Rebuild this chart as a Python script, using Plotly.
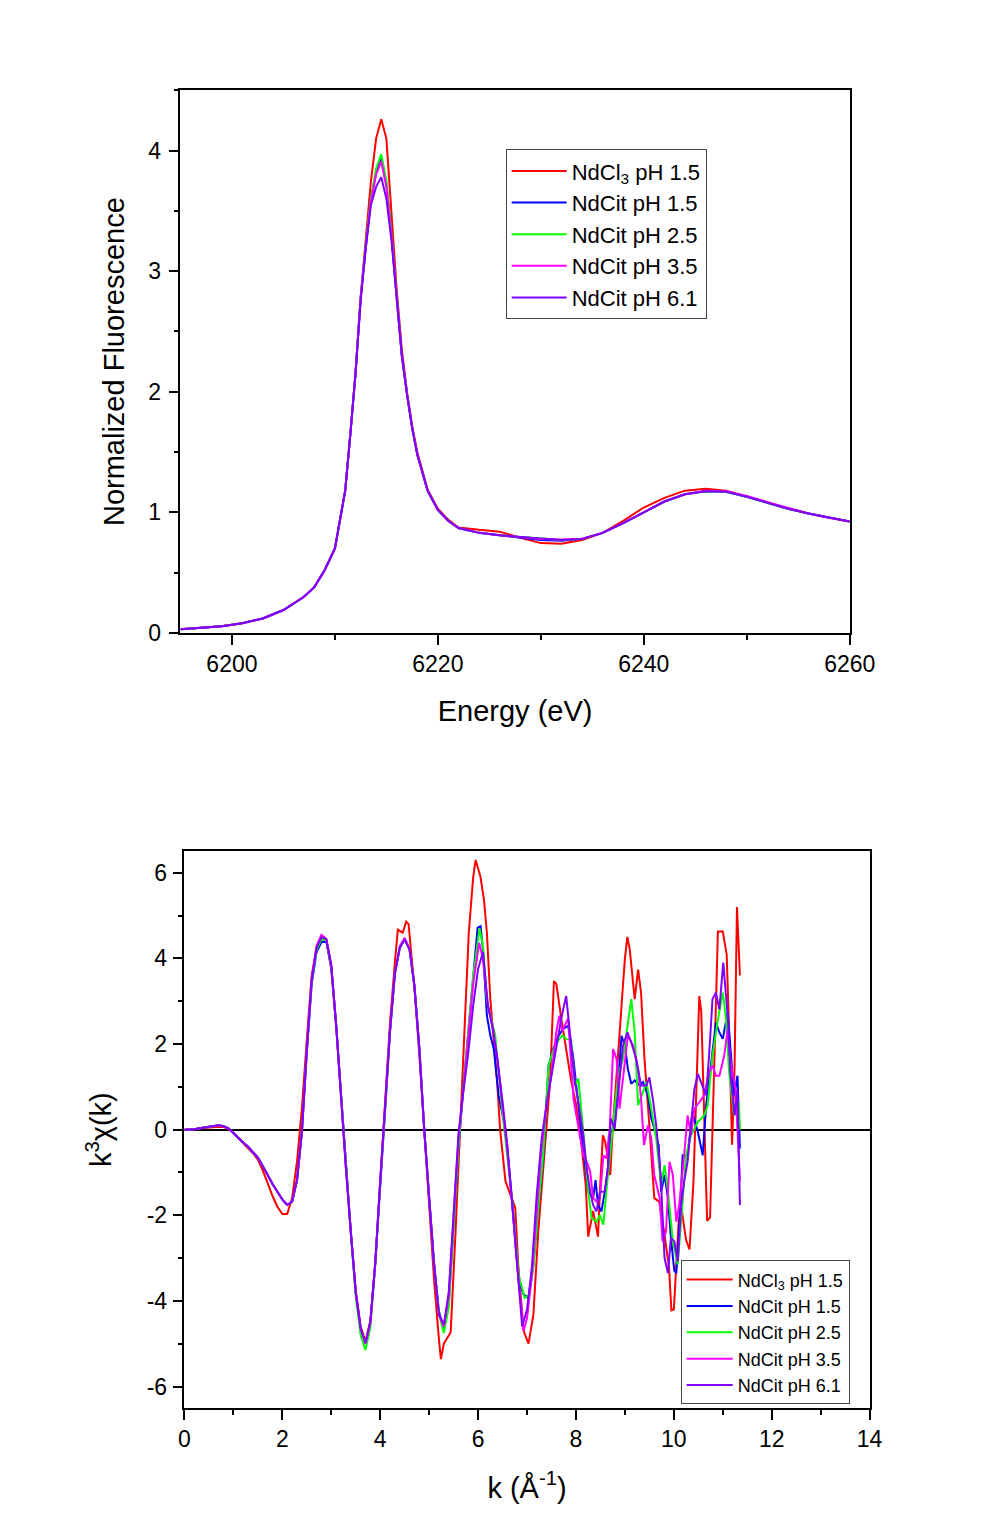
import plotly.graph_objects as go

# ---------------- Top panel: XANES ----------------
energy = [6195, 6197, 6199, 6201, 6203, 6205, 6207, 6208, 6209, 6210, 6211, 6211.5, 6212, 6212.5,
          6213, 6213.5, 6214, 6214.5, 6215, 6215.5, 6216, 6216.5, 6217, 6217.5, 6218, 6219, 6220,
          6221, 6222, 6224, 6226, 6228, 6230, 6232, 6234, 6236, 6238, 6240, 6242, 6244, 6246, 6248,
          6250, 6252, 6254, 6256, 6258, 6260]

xanes_ndcl3 = [0.03, 0.04, 0.055, 0.08, 0.12, 0.19, 0.30, 0.38, 0.52, 0.70, 1.18, 1.65, 2.15, 2.78,
               3.25, 3.75, 4.10, 4.26, 4.10, 3.45, 2.85, 2.35, 2.00, 1.72, 1.50, 1.19, 1.03,
               0.94, 0.875, 0.855, 0.84, 0.79, 0.745, 0.74, 0.77, 0.83, 0.93, 1.04, 1.12, 1.18, 1.195, 1.18,
               1.135, 1.085, 1.035, 0.99, 0.955, 0.925]
xanes_cit15 = [0.03, 0.04, 0.055, 0.08, 0.12, 0.19, 0.30, 0.38, 0.52, 0.70, 1.18, 1.65, 2.15, 2.78,
               3.22, 3.60, 3.82, 3.93, 3.72, 3.30, 2.78, 2.30, 1.98, 1.70, 1.48, 1.18, 1.02,
               0.93, 0.87, 0.83, 0.81, 0.79, 0.77, 0.765, 0.78, 0.83, 0.91, 1.00, 1.09, 1.15, 1.175, 1.17,
               1.13, 1.08, 1.03, 0.99, 0.955, 0.925]
xanes_cit25 = [0.03, 0.04, 0.055, 0.08, 0.12, 0.19, 0.30, 0.38, 0.52, 0.70, 1.18, 1.65, 2.15, 2.78,
               3.23, 3.60, 3.85, 3.97, 3.75, 3.30, 2.78, 2.30, 1.98, 1.70, 1.48, 1.18, 1.02,
               0.93, 0.87, 0.83, 0.81, 0.795, 0.78, 0.77, 0.78, 0.83, 0.91, 1.00, 1.09, 1.15, 1.175, 1.17,
               1.13, 1.08, 1.03, 0.99, 0.955, 0.925]
xanes_cit35 = [0.03, 0.04, 0.055, 0.08, 0.12, 0.19, 0.30, 0.38, 0.52, 0.70, 1.18, 1.65, 2.15, 2.78,
               3.22, 3.58, 3.80, 3.91, 3.70, 3.28, 2.77, 2.30, 1.98, 1.70, 1.48, 1.18, 1.02,
               0.93, 0.87, 0.83, 0.81, 0.795, 0.78, 0.775, 0.78, 0.83, 0.91, 1.00, 1.09, 1.15, 1.18, 1.175,
               1.135, 1.085, 1.035, 0.99, 0.955, 0.925]
xanes_cit61 = [0.03, 0.04, 0.055, 0.08, 0.12, 0.19, 0.30, 0.38, 0.52, 0.70, 1.18, 1.65, 2.15, 2.75,
               3.20, 3.55, 3.70, 3.78, 3.60, 3.25, 2.75, 2.30, 1.98, 1.70, 1.48, 1.18, 1.02,
               0.93, 0.87, 0.83, 0.81, 0.795, 0.78, 0.77, 0.78, 0.83, 0.91, 1.00, 1.09, 1.15, 1.175, 1.17,
               1.13, 1.08, 1.03, 0.99, 0.955, 0.925]

# ---------------- Bottom panel: EXAFS k^3 chi(k) ----------------
k_ndcl3 = [0, 0.2, 0.4, 0.6, 0.7, 0.8, 0.9, 1.0, 1.1, 1.2, 1.3, 1.4, 1.5, 1.6, 1.7, 1.8, 1.9, 2.0, 2.1,
           2.2, 2.3, 2.4, 2.5, 2.6, 2.7, 2.8, 2.9, 3.0, 3.1, 3.2, 3.3, 3.4, 3.5, 3.6, 3.7, 3.8, 3.9, 4.0,
           4.1, 4.2, 4.3, 4.36, 4.46, 4.53, 4.58, 4.7, 4.8, 4.9, 5.0, 5.1, 5.2, 5.24, 5.3, 5.37, 5.44,
           5.54, 5.68, 5.81, 5.9, 5.95, 6.05, 6.12, 6.18, 6.25, 6.39, 6.45, 6.56, 6.66, 6.76, 6.82,
           6.93, 7.03, 7.13, 7.23, 7.34, 7.47, 7.55, 7.6, 7.7, 7.8, 7.9, 8.0, 8.1, 8.2, 8.25, 8.3, 8.35,
           8.4, 8.45, 8.5, 8.55, 8.6, 8.7, 8.75, 8.8, 8.9, 9.0, 9.05, 9.1, 9.2, 9.27, 9.33, 9.4, 9.5,
           9.6, 9.7, 9.8, 9.9, 9.95, 10.0, 10.1, 10.15, 10.25, 10.32, 10.4, 10.45, 10.52, 10.56, 10.62,
           10.68, 10.74, 10.82, 10.9, 11.0, 11.08, 11.14, 11.19, 11.24, 11.29, 11.35]
chi_ndcl3 = [0, 0.01, 0.04, 0.06, 0.07, 0.06, 0.02, -0.08, -0.2, -0.31, -0.42, -0.55, -0.7, -0.95, -1.25,
             -1.55, -1.8, -1.97, -1.97, -1.6, -0.75, 0.5, 2.1, 3.6, 4.25, 4.45, 4.4, 3.75, 2.4, 0.75,
             -0.85, -2.4, -3.75, -4.6, -4.95, -4.45, -3.1, -1.2, 0.6, 2.5, 3.9, 4.67, 4.6, 4.86, 4.8,
             3.3, 1.75, 0.0, -1.8, -3.5, -4.9, -5.36, -5.0, -4.88, -4.73, -2.38, 1.1, 4.6, 5.9, 6.3,
             5.9, 5.37, 4.6, 3.05, 1.11, 0.0, -1.21, -1.52, -1.83, -3.15, -4.7, -5.0, -4.32, -2.38,
             -0.83, 1.11, 3.47, 3.4, 2.6, 1.9, 1.15, 0.6, -0.2, -1.3, -2.5, -2.2, -1.9, -2.2, -2.5,
             -1.2, -0.13, -0.3, -1.06, 0.0, 0.8, 2.3, 4.0, 4.5, 4.2, 3.05, 3.74, 3.2, 1.65, 0.1, -1.6,
             -1.68, -2.38, -3.2, -4.22, -4.2, -2.13, -1.8, -2.58, -2.8, -1.24, 0.54, 3.12, 2.76, 0.54,
             -2.13, -2.05, 1.43, 4.63, 4.63, 4.09, 1.87, -0.35, 1.43, 5.2, 3.6]

k_cit15 = [0, 0.2, 0.4, 0.6, 0.7, 0.8, 0.9, 1.0, 1.1, 1.2, 1.3, 1.4, 1.5, 1.6, 1.7, 1.8, 1.9, 2.0, 2.1,
           2.2, 2.3, 2.4, 2.5, 2.6, 2.7, 2.8, 2.9, 3.0, 3.1, 3.2, 3.3, 3.4, 3.5, 3.6, 3.7, 3.8, 3.9, 4.0,
           4.1, 4.2, 4.3, 4.4, 4.5, 4.6, 4.7, 4.8, 4.9, 5.0, 5.1, 5.2, 5.3, 5.4, 5.5, 5.6, 5.7, 5.8, 5.9,
           5.99, 6.05, 6.1, 6.18, 6.25, 6.32, 6.42, 6.56, 6.69, 6.83, 6.93, 7.03, 7.13, 7.23, 7.33, 7.44,
           7.54, 7.64, 7.74, 7.84, 7.94, 8.05, 8.18, 8.25, 8.35, 8.4, 8.45, 8.52, 8.59, 8.66, 8.72, 8.79,
           8.86, 8.93, 9.0, 9.06, 9.13, 9.2, 9.3, 9.37, 9.47, 9.54, 9.62, 9.69, 9.74, 9.81, 9.88, 9.94,
           10.01, 10.05, 10.11, 10.18, 10.28, 10.38, 10.49, 10.59, 10.66, 10.76, 10.86, 10.93, 11.0,
           11.1, 11.16, 11.23, 11.3, 11.35]
chi_cit15 = [0, 0.01, 0.05, 0.09, 0.10, 0.08, 0.03, -0.08, -0.2, -0.3, -0.4, -0.52, -0.65, -0.85, -1.07,
             -1.27, -1.45, -1.63, -1.76, -1.68, -1.18, -0.05, 1.8, 3.4, 4.15, 4.38, 4.38, 3.8, 2.45,
             0.75, -0.92, -2.4, -3.8, -4.65, -5.0, -4.5, -3.1, -1.2, 0.45, 2.3, 3.65, 4.25, 4.45, 4.22,
             3.35, 1.9, 0.0, -1.6, -3.1, -4.25, -4.65, -4.1, -2.3, -0.4, 1.0, 2.3, 3.6, 4.72, 4.75,
             4.2, 2.66, 2.2, 1.89, 0.8, 0.0, -1.6, -3.54, -3.85, -3.93, -3.16, -1.84, -0.67, 1.5, 1.9,
             2.19, 2.35, 2.43, 1.73, 0.57, -0.67, -1.45, -1.6, -1.18, -1.76, -1.91, -1.45, -0.83, -0.05,
             0.1, 1.03, 2.19, 1.96, 1.42, 1.07, 1.15, 1.03, 1.11, 0.8, 0.26, -0.05, -0.36, -1.45, -1.06,
             -1.6, -2.53, -3.3, -3.35, -2.3, -0.6, -0.6, 0.41, -0.05, -0.6, 0.57, 1.5, 2.5, 2.27, 2.12,
             2.74, 1.73, 0.8, 1.26, -0.44]

k_cit25 = [0, 0.2, 0.4, 0.6, 0.7, 0.8, 0.9, 1.0, 1.1, 1.2, 1.3, 1.4, 1.5, 1.6, 1.7, 1.8, 1.9, 2.0, 2.1,
           2.2, 2.3, 2.4, 2.5, 2.6, 2.7, 2.8, 2.9, 3.0, 3.1, 3.2, 3.3, 3.4, 3.5, 3.6, 3.7, 3.8, 3.9, 4.0,
           4.1, 4.2, 4.3, 4.4, 4.5, 4.6, 4.7, 4.8, 4.9, 5.0, 5.1, 5.2, 5.3, 5.4, 5.5, 5.6, 5.7, 5.8, 5.9,
           6.03, 6.1, 6.18, 6.25, 6.35, 6.49, 6.6, 6.7, 6.83, 6.95, 7.05, 7.13, 7.23, 7.33, 7.44, 7.55,
           7.65, 7.72, 7.8, 7.9, 7.98, 8.05, 8.15, 8.25, 8.32, 8.42, 8.49, 8.56, 8.62, 8.69, 8.76, 8.86,
           8.96, 9.06, 9.13, 9.2, 9.27, 9.37, 9.44, 9.54, 9.64, 9.74, 9.81, 9.88, 9.98, 10.08, 10.15,
           10.25, 10.35, 10.49, 10.62, 10.69, 10.79, 10.89, 11.0, 11.06, 11.13, 11.23, 11.33, 11.35]
chi_cit25 = [0, 0.01, 0.05, 0.09, 0.10, 0.08, 0.03, -0.08, -0.2, -0.3, -0.4, -0.52, -0.65, -0.85, -1.07,
             -1.27, -1.45, -1.63, -1.76, -1.68, -1.18, -0.05, 1.85, 3.45, 4.2, 4.45, 4.42, 3.8, 2.45,
             0.75, -0.95, -2.45, -3.9, -4.8, -5.15, -4.6, -3.15, -1.2, 0.45, 2.3, 3.65, 4.25, 4.45, 4.22,
             3.35, 1.9, 0.0, -1.6, -3.15, -4.3, -4.75, -4.15, -2.3, -0.4, 1.0, 2.3, 3.6, 4.7, 4.3, 3.0,
             2.66, 2.2, 0.49, -0.6, -1.7, -3.4, -3.93, -3.85, -3.2, -1.84, -0.6, 1.5, 1.9, 2.1, 2.2,
             2.12, 2.1, 1.03, 1.19, -0.05, -1.45, -2.07, -2.15, -2.0, -2.22, -1.45, -0.67, 0.1, 1.26,
             1.65, 2.43, 3.05, 2.27, 0.57, 0.88, 1.11, 0.49, -0.21, -1.29, -0.83, -1.45, -2.61, -3.15,
             -2.15, -0.6, -0.13, 0.18, 0.33, 0.57, 1.73, 2.5, 3.2, 2.66, 1.34, 0.33, 0.64, 0.0]

k_cit35 = [0, 0.2, 0.4, 0.6, 0.7, 0.8, 0.9, 1.0, 1.1, 1.2, 1.3, 1.4, 1.5, 1.6, 1.7, 1.8, 1.9, 2.0, 2.1,
           2.2, 2.3, 2.4, 2.5, 2.6, 2.7, 2.8, 2.9, 3.0, 3.1, 3.2, 3.3, 3.4, 3.5, 3.6, 3.7, 3.8, 3.9, 4.0,
           4.1, 4.2, 4.3, 4.4, 4.5, 4.6, 4.7, 4.8, 4.9, 5.0, 5.1, 5.2, 5.3, 5.4, 5.5, 5.6, 5.7, 5.8, 5.9,
           6.02, 6.1, 6.2, 6.3, 6.4, 6.5, 6.6, 6.7, 6.8, 6.93, 7.0, 7.1, 7.2, 7.3, 7.4, 7.5, 7.6, 7.66,
           7.72, 7.8, 7.84, 7.95, 8.05, 8.15, 8.22, 8.29, 8.35, 8.42, 8.49, 8.56, 8.62, 8.69, 8.76, 8.83,
           8.89, 8.96, 9.06, 9.17, 9.27, 9.33, 9.39, 9.47, 9.54, 9.6, 9.71, 9.77, 9.84, 9.91, 9.98,
           10.05, 10.11, 10.21, 10.28, 10.35, 10.42, 10.52, 10.62, 10.72, 10.79, 10.86, 10.93, 11.03,
           11.1, 11.16, 11.26, 11.35]
chi_cit35 = [0, 0.01, 0.05, 0.09, 0.10, 0.08, 0.03, -0.08, -0.2, -0.3, -0.4, -0.52, -0.65, -0.85, -1.07,
             -1.27, -1.45, -1.63, -1.76, -1.68, -1.18, -0.05, 1.85, 3.5, 4.3, 4.55, 4.45, 3.85, 2.45,
             0.7, -0.92, -2.4, -3.8, -4.65, -5.0, -4.5, -3.1, -1.2, 0.45, 2.3, 3.65, 4.28, 4.48, 4.22,
             3.35, 1.88, 0.0, -1.6, -3.15, -4.32, -4.6, -3.9, -1.9, -0.2, 0.95, 2.1, 3.4, 4.36, 4.0,
             2.9, 2.4, 1.6, 0.6, -0.5, -1.8, -3.2, -4.7, -4.4, -3.4, -1.8, -0.4, 0.6, 1.3, 2.3, 2.66,
             2.3, 2.5, 2.6, 0.72, 0.1, -0.6, -0.75, -0.98, -1.6, -1.68, -1.6, -0.6, -0.67, 0.02, 1.88,
             1.65, 0.49, 1.19, 2.19, 1.96, 1.42, 0.72, -0.36, 0.1, -0.21, -1.06, -1.6, -2.61, -2.38,
             -0.75, -1.06, -2.15, -1.76, -0.6, 0.33, -0.13, 0.49, 0.64, 0.8, 1.34, 1.5, 1.26, 1.26,
             1.73, 2.35, 1.57, 0.95, -1.2]

k_cit61 = [0, 0.2, 0.4, 0.6, 0.7, 0.8, 0.9, 1.0, 1.1, 1.2, 1.3, 1.4, 1.5, 1.6, 1.7, 1.8, 1.9, 2.0, 2.1,
           2.2, 2.3, 2.4, 2.5, 2.6, 2.7, 2.8, 2.9, 3.0, 3.1, 3.2, 3.3, 3.4, 3.5, 3.6, 3.7, 3.8, 3.9, 4.0,
           4.1, 4.2, 4.3, 4.4, 4.5, 4.6, 4.7, 4.8, 4.9, 5.0, 5.1, 5.2, 5.3, 5.4, 5.5, 5.6, 5.7, 5.8, 5.9,
           6.0, 6.1, 6.2, 6.3, 6.4, 6.5, 6.6, 6.7, 6.8, 6.9, 7.0, 7.1, 7.2, 7.3, 7.4, 7.5, 7.6, 7.7, 7.8,
           7.88, 7.98, 8.05, 8.15, 8.22, 8.29, 8.35, 8.42, 8.49, 8.59, 8.66, 8.71, 8.79, 8.86, 8.96,
           9.05, 9.13, 9.23, 9.33, 9.44, 9.5, 9.57, 9.64, 9.73, 9.81, 9.88, 9.94, 10.01, 10.08, 10.15,
           10.21, 10.28, 10.35, 10.42, 10.49, 10.59, 10.66, 10.72, 10.79, 10.86, 10.93, 11.01, 11.1,
           11.16, 11.24, 11.3, 11.35]
chi_cit61 = [0, 0.01, 0.05, 0.09, 0.10, 0.08, 0.03, -0.08, -0.2, -0.3, -0.4, -0.52, -0.65, -0.85, -1.07,
             -1.27, -1.45, -1.63, -1.76, -1.68, -1.18, -0.05, 1.85, 3.5, 4.25, 4.5, 4.45, 3.85, 2.45,
             0.7, -0.92, -2.4, -3.8, -4.65, -4.98, -4.48, -3.1, -1.2, 0.45, 2.3, 3.65, 4.25, 4.44,
             4.2, 3.35, 1.88, 0.0, -1.6, -3.15, -4.32, -4.55, -3.8, -1.85, -0.1, 0.9, 1.8, 2.9, 3.75,
             4.15, 2.9, 2.35, 1.6, 0.65, -0.4, -1.75, -3.15, -4.6, -4.2, -3.2, -1.5, -0.2, 0.6, 1.25,
             1.9, 2.6, 3.12, 2.2, 1.1, 0.64, -0.13, -0.91, -1.45, -1.76, -1.91, -1.45, -1.45, -0.83,
             0.26, 0.02, 0.88, 1.96, 2.27, 2.04, 1.65, 1.03, 1.03, 1.22, 0.72, 0.1, -1.06, -3.0, -3.35,
             -2.53, -2.61, -3.08, -1.76, -1.22, -0.75, 0.18, 0.95, 1.3, 1.03, 0.8, 1.73, 3.05, 3.2,
             2.81, 3.9, 2.66, 1.26, 0.33, 0.95, -1.76]

series_names = ["NdCl<sub>3</sub> pH 1.5", "NdCit pH 1.5", "NdCit pH 2.5", "NdCit pH 3.5", "NdCit pH 6.1"]
series_colors = ["#FF0000", "#0000FF", "#00FF00", "#FF00FF", "#8000FF"]

xanes_values = [xanes_ndcl3, xanes_cit15, xanes_cit25, xanes_cit35, xanes_cit61]
exafs_k = [k_ndcl3, k_cit15, k_cit25, k_cit35, k_cit61]
exafs_chi = [chi_ndcl3, chi_cit15, chi_cit25, chi_cit35, chi_cit61]

y2_tickvals = [-6, -4, -2, 0, 2, 4, 6]
y2_ticktext = ["-6", "-4", "-2", "0", "2", "4", "6"]

FONT = "Arial, Liberation Sans, sans-serif"

fig = go.Figure()
for name, color, yv in zip(series_names, series_colors, xanes_values):
    fig.add_trace(go.Scatter(x=energy, y=yv, mode="lines", name=name,
                             line=dict(color=color, width=2),
                             xaxis="x", yaxis="y", legend="legend"))
for name, color, kv, cv in zip(series_names, series_colors, exafs_k, exafs_chi):
    fig.add_trace(go.Scatter(x=kv, y=cv, mode="lines", name=name,
                             line=dict(color=color, width=2),
                             xaxis="x2", yaxis="y2", legend="legend2"))

# figure size and the measured page-to-photo mapping (offset + scale)
W, H = 987, 1517
AX, SX = 12.6, 0.973
AY, SY = 6.45, 0.994


def px_x(p):
    return ((p - AX) / SX) / W


def px_y(p):
    return (H - (p - AY) / SY) / H


axis_common = dict(showline=True, linecolor="black", linewidth=1.5, mirror=True,
                   showgrid=False, ticks="outside", ticklen=10, tickwidth=1.5, tickcolor="black",
                   tickfont=dict(size=23, color="black", family=FONT))
minor_common = dict(ticks="outside", ticklen=5, tickwidth=1.5, tickcolor="black")

fig.update_layout(
    width=W, height=H,
    margin=dict(l=0, r=0, t=0, b=0),
    paper_bgcolor="white", plot_bgcolor="white",
    font=dict(family=FONT, color="black"),
    xaxis=dict(domain=[px_x(180), px_x(853)], anchor="y", range=[6195, 6260],
               tick0=6200, dtick=20, zeroline=False, ticklabelstandoff=0,
               minor=dict(dtick=10, tick0=6200, **minor_common),
               title=dict(text="Energy (eV)", font=dict(size=29, family=FONT), standoff=24),
               **axis_common),
    yaxis=dict(domain=[px_y(633), px_y(89)], anchor="x", range=[0, 4.5],
               tick0=0, dtick=1, zeroline=False, ticklabelstandoff=3,
               minor=dict(dtick=0.5, tick0=0, **minor_common),
               title=dict(text="Normalized Fluorescence", font=dict(size=29, family=FONT), standoff=15),
               **axis_common),
    xaxis2=dict(domain=[px_x(184), px_x(873)], anchor="y2", range=[0, 14],
                tick0=0, dtick=2, zeroline=False, ticklabelstandoff=0,
                minor=dict(dtick=1, tick0=0, **minor_common),
                title=dict(text="k (Å<sup>-1</sup>)", font=dict(size=29, family=FONT), standoff=26),
                **axis_common),
    yaxis2=dict(domain=[px_y(1410), px_y(852)], anchor="x2", range=[-6.5, 6.5],
                tickmode="array", tickvals=y2_tickvals, ticktext=y2_ticktext,
                zeroline=True, zerolinecolor="black", zerolinewidth=2, ticklabelstandoff=1,
                minor=dict(dtick=1, tick0=0, **minor_common),
                title=dict(text="k<sup>3</sup>χ(k)", font=dict(size=29, family=FONT), standoff=26),
                **axis_common),
    legend=dict(x=px_x(507), y=px_y(148), xanchor="left", yanchor="top",
                bgcolor="white", bordercolor="#444", borderwidth=1,
                font=dict(size=22, family=FONT, color="black"), itemwidth=55, tracegroupgap=0),
    legend2=dict(x=px_x(683), y=px_y(1262), xanchor="left", yanchor="top",
                 bgcolor="white", bordercolor="#444", borderwidth=1,
                 font=dict(size=18, family=FONT, color="black"), itemwidth=46, tracegroupgap=0),
)

fig.write_html("out.html")
